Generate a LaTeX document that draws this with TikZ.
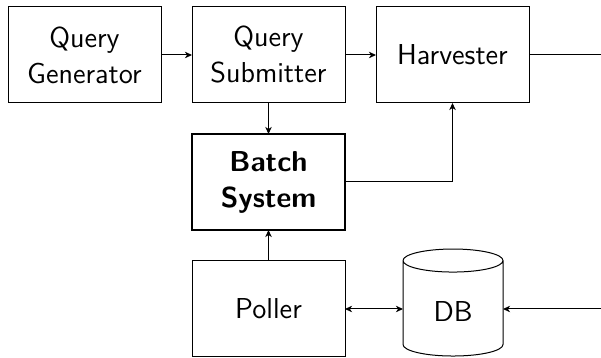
\documentclass[tikz,border=0pt]{standalone}
\usetikzlibrary{positioning,shapes.geometric,arrows.meta}

\begin{document}
\begin{tikzpicture}[x=0.5pt,y=-0.5pt,>={Stealth[length=3.5pt,width=3.2pt,inset=1pt]},node distance=15.5pt,line width=0.5pt,
  every node/.style={font=\sffamily\Large},
  box/.style={draw,outer sep=0pt,minimum width=76.5pt,minimum height=48pt,align=center,inner sep=2pt},
  db/.style={draw,outer sep=0pt,cylinder,shape border rotate=90,aspect=0.44,minimum width=50pt,minimum height=53.5pt}]

\useasboundingbox (0,0) rectangle (601,358);

\node[box] (qgen) at (84.5,55) {Query\\Generator};
\node[box] (qsub) [right=of qgen] {Query\\Submitter};
\node[box] (harv) [right=of qsub] {Harvester};

\node[box,line width=1.4pt,font=\sffamily\Large\bfseries] (batch) [below=of qsub] {Batch\\System};
\node[box] (poll) [below=of batch] {Poller};
\node[db] (db) [right=29pt of poll,yshift=-1.2pt] {DB};

% loose ends leaving the page
\coordinate[right=36.5pt of harv] (hout);
\coordinate (dbin) at ([xshift=49.5pt]poll -| db.east);

\path[->]
	(qgen) edge (qsub)
	(qsub) edge (harv)
	(qsub) edge (batch)
	(poll) edge (batch)
;

\draw[->] (batch.east) -| (harv.south);
\draw[<->] (poll) -- (poll -| db.west);
\draw[->] (dbin) -- (dbin -| db.east);
\draw (harv) -- (hout);

\end{tikzpicture}
\end{document}
